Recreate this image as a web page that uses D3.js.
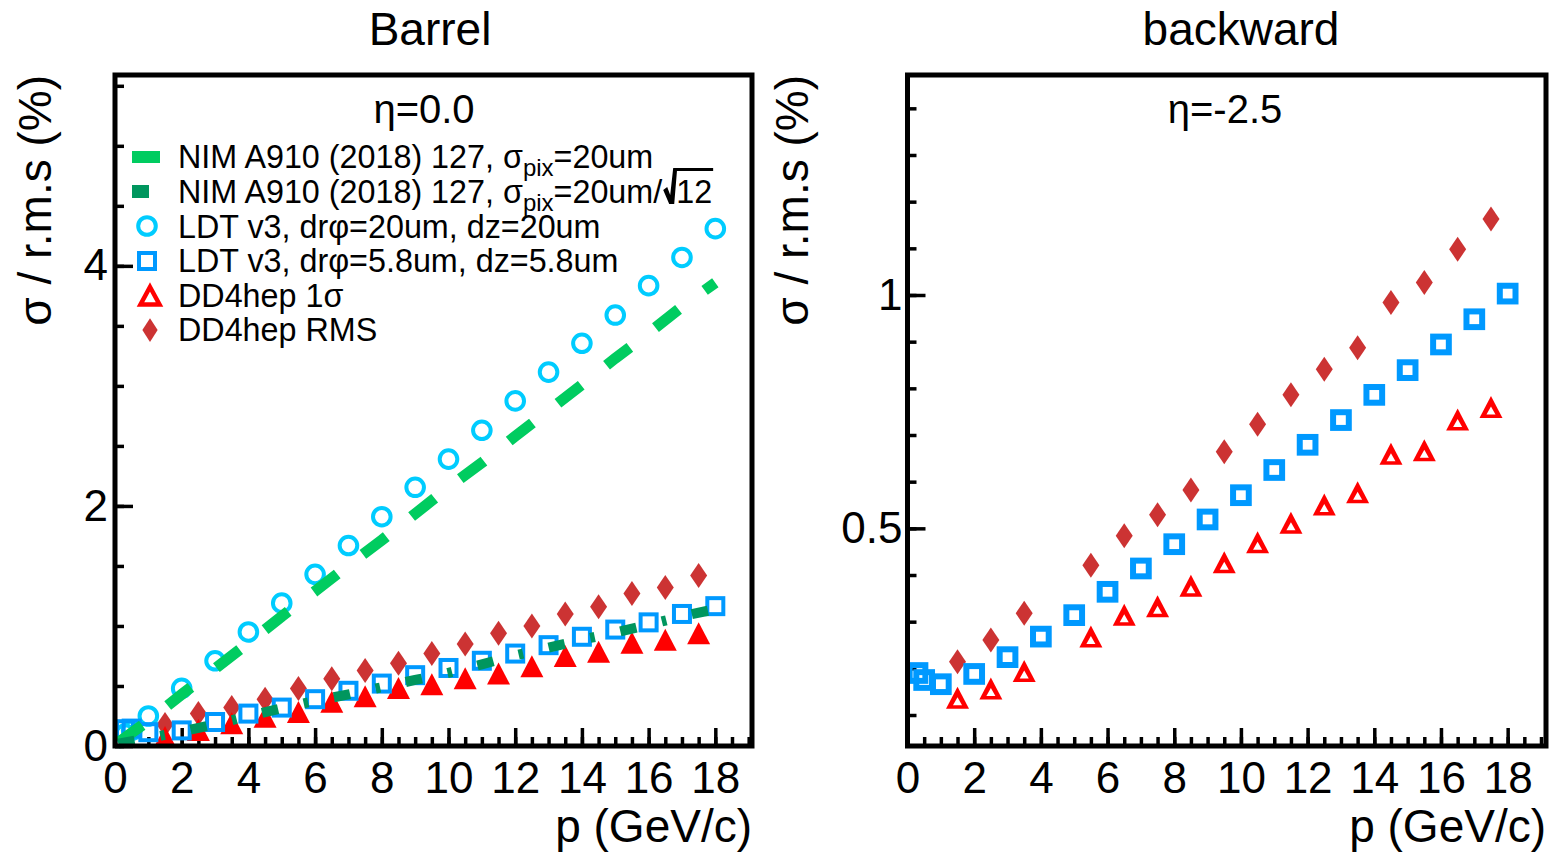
<!DOCTYPE html>
<html><head><meta charset="utf-8">
<script src="https://cdn.jsdelivr.net/npm/d3@7"></script>
<style>
body{margin:0;background:#fff;}
svg{display:block;font-family:"Liberation Sans",Arial,Helvetica,sans-serif;}
</style></head><body>
<svg id="c" width="1549" height="852"></svg>
<script>
// ---------------- data ----------------
const panelTitles = ["Barrel", "backward"];
const etaLabels = ["\u03b7=0.0", "\u03b7=-2.5"];
const legendLabels = [
  "NIM A910 (2018) 127, \u03c3pix=20um",
  "NIM A910 (2018) 127, \u03c3pix=20um/\u221a12",
  "LDT v3, dr\u03c6=20um, dz=20um",
  "LDT v3, dr\u03c6=5.8um, dz=5.8um",
  "DD4hep 1\u03c3",
  "DD4hep RMS"
];
const xTickLabels = [0, 2, 4, 6, 8, 10, 12, 14, 16, 18];
const yTicksBarrel = [0, 2, 4];
const yTicksBackward = [0.5, 1];

// Barrel (eta = 0)
const pLDTbarrel = [0.3, 0.5, 1, 2, 3, 4, 5, 6, 7, 8, 9, 10, 11, 12, 13, 14, 15, 16, 17, 18];
const barrelLDT20 = [0.10, 0.13, 0.25, 0.48, 0.71, 0.95, 1.19, 1.43, 1.67, 1.91, 2.155, 2.39, 2.63, 2.875, 3.115, 3.355, 3.59, 3.835, 4.07, 4.31];
const barrelLDT58 = [0.14, 0.145, 0.115, 0.13, 0.20, 0.27, 0.32, 0.39, 0.46, 0.52, 0.59, 0.65, 0.71, 0.77, 0.84, 0.91, 0.97, 1.03, 1.10, 1.165];
const pDDbarrel = [1.5, 2.5, 3.5, 4.5, 5.5, 6.5, 7.5, 8.5, 9.5, 10.5, 11.5, 12.5, 13.5, 14.5, 15.5, 16.5, 17.5];
const barrelDD1sig = [0.07, 0.13, 0.185, 0.24, 0.28, 0.365, 0.41, 0.48, 0.51, 0.56, 0.60, 0.66, 0.745, 0.78, 0.857, 0.88, 0.935];
const barrelDDrms = [0.18, 0.27, 0.32, 0.39, 0.48, 0.56, 0.63, 0.69, 0.77, 0.85, 0.94, 1.00, 1.10, 1.16, 1.27, 1.32, 1.42];
const pNIM = [0.1, 1, 2, 3, 4, 5, 6, 7, 8, 9, 10, 11, 12, 13, 14, 15, 16, 17, 18];
const nim20 = [0.03, 0.21, 0.43, 0.645, 0.86, 1.08, 1.29, 1.505, 1.715, 1.935, 2.155, 2.36, 2.58, 2.795, 3.01, 3.23, 3.44, 3.66, 3.86];
const nim20s12 = [0.02, 0.065, 0.12, 0.18, 0.25, 0.315, 0.375, 0.43, 0.49, 0.55, 0.61, 0.68, 0.755, 0.82, 0.885, 0.945, 1.01, 1.08, 1.14];

// Backward (eta = -2.5)
const pLDTback = [0.3, 0.5, 1, 2, 3, 4, 5, 6, 7, 8, 9, 10, 11, 12, 13, 14, 15, 16, 17, 18];
const backLDT58 = [0.19, 0.175, 0.166, 0.188, 0.224, 0.268, 0.314, 0.364, 0.414, 0.466, 0.519, 0.571, 0.625, 0.679, 0.732, 0.786, 0.839, 0.894, 0.948, 1.003];
const pDDback = [1.5, 2.5, 3.5, 5.5, 6.5, 7.5, 8.5, 9.5, 10.5, 11.5, 12.5, 13.5, 14.5, 15.5, 16.5, 17.5];
const backDD1sig = [0.136, 0.156, 0.193, 0.267, 0.314, 0.332, 0.376, 0.426, 0.469, 0.511, 0.55, 0.576, 0.659, 0.666, 0.732, 0.759];
const backDDrms = [0.214, 0.261, 0.318, 0.421, 0.484, 0.529, 0.582, 0.664, 0.723, 0.786, 0.841, 0.887, 0.984, 1.027, 1.098, 1.163];

// ---------------- styling ----------------
const COL = {lime:"#00cc60", dgreen:"#00965e", cyan:"#00ccff", blue:"#0099ff", red:"#ff0000", dred:"#cc3333"};

const svg = d3.select("#c");
svg.append("rect").attr("width",1549).attr("height",852).attr("fill","#fff");

const xL = d3.scaleLinear().domain([0,19.1]).range([115,752]);
const yL = d3.scaleLinear().domain([0,5.59]).range([746,75]);
const xR = d3.scaleLinear().domain([0,19.15]).range([907.5,1546]);
const yR = d3.scaleLinear().domain([0.0336,1.4714]).range([746,75]);

const zip = (ps, vs) => ps.map((p,i)=>({p, v: vs[i]}));

function drawAxes(x, y, yMajor, yMinor, yPad) {
  const [x0, x1] = x.range();
  const [yb, yt] = y.range();
  const xMinor = d3.range(0, x.domain()[1], 0.5);
  const g = svg.append("g");
  const bm = g.append("g").attr("transform",`translate(0,${yb})`)
    .call(d3.axisBottom(x).tickValues(xMinor).tickSize(-9).tickFormat(""));
  const bM = g.append("g").attr("transform",`translate(0,${yb})`)
    .call(d3.axisBottom(x).tickValues(xTickLabels).tickSize(-18).tickPadding(16).tickFormat(d3.format("d")));
  const lm = g.append("g").attr("transform",`translate(${x0},0)`)
    .call(d3.axisLeft(y).tickValues(yMinor).tickSize(-9).tickFormat(""));
  const lM = g.append("g").attr("transform",`translate(${x0},0)`)
    .call(d3.axisLeft(y).tickValues(yMajor).tickSize(-18).tickPadding(yPad).tickFormat(d3.format("~g")));
  [bm,bM,lm,lM].forEach(a=>{
    a.select(".domain").remove();
    a.attr("font-family",null).attr("font-size",44);
    a.selectAll("line").attr("stroke","#000").attr("stroke-width",3.5);
    a.selectAll("text").attr("fill","#000");
  });
}

function frame(x, y) {
  const [x0,x1] = x.range(); const [yb,yt] = y.range();
  svg.append("rect").attr("x",x0).attr("y",yt).attr("width",x1-x0).attr("height",yb-yt)
    .attr("fill","none").attr("stroke","#000").attr("stroke-width",5);
}

const triPath = "M0,-11.5L11.5,10.5L-11.5,10.5Z";
const triHole = "M0,-1L4.5,7L-4.5,7Z";
const diaPath = "M0,-12.5L8.5,0L0,12.5L-8.5,0Z";

function diamonds(g, data, x, y) {
  g.selectAll(null).data(data).join("path").attr("d",diaPath)
    .attr("transform",d=>`translate(${x(d.p)},${y(d.v)})`).attr("fill",COL.dred);
}
function trianglesFilled(g, data, x, y) {
  g.selectAll(null).data(data).join("path").attr("d",triPath)
    .attr("transform",d=>`translate(${x(d.p)},${y(d.v)})`).attr("fill",COL.red);
}
function trianglesOpen(g, data, x, y) {
  const s = g.selectAll(null).data(data).join("g")
    .attr("transform",d=>`translate(${x(d.p)},${y(d.v)})`);
  s.append("path").attr("d",triPath).attr("fill",COL.red);
  s.append("path").attr("d",triHole).attr("fill","#fff");
}
function squares(g, data, x, y, side, sw) {
  g.selectAll(null).data(data).join("rect")
    .attr("x",d=>x(d.p)-side/2).attr("y",d=>y(d.v)-side/2)
    .attr("width",side).attr("height",side)
    .attr("fill","none").attr("stroke",COL.blue).attr("stroke-width",sw);
}
function circles(g, data, x, y) {
  g.selectAll(null).data(data).join("circle")
    .attr("cx",d=>x(d.p)).attr("cy",d=>y(d.v)).attr("r",8.8)
    .attr("fill","none").attr("stroke",COL.cyan).attr("stroke-width",4);
}

// ---------------- Barrel panel ----------------
drawAxes(xL, yL, yTicksBarrel, d3.range(0, 5.59, 0.5), 7);
const gL = svg.append("g");
diamonds(gL, zip(pDDbarrel, barrelDDrms), xL, yL);
trianglesFilled(gL, zip(pDDbarrel, barrelDD1sig), xL, yL);
circles(gL, zip(pLDTbarrel, barrelLDT20), xL, yL);
squares(gL, zip(pLDTbarrel, barrelLDT58), xL, yL, 16, 4);
const lineL = d3.line().x(d=>xL(d.p)).y(d=>yL(d.v));
gL.append("path").attr("d", lineL(zip(pNIM, nim20))).attr("fill","none")
  .attr("stroke",COL.lime).attr("stroke-width",11).attr("stroke-dasharray","29.4,32.3");
gL.append("path").attr("d", lineL(zip(pNIM, nim20s12))).attr("fill","none")
  .attr("stroke",COL.dgreen).attr("stroke-width",10).attr("stroke-dasharray","16.5,26.2,4.6,26.2");
frame(xL, yL);

// ---------------- Backward panel ----------------
drawAxes(xR, yR, yTicksBackward, d3.range(0.1, 1.47, 0.1).map(v=>+v.toFixed(2)), 5);
const gR = svg.append("g");
diamonds(gR, zip(pDDback, backDDrms), xR, yR);
trianglesOpen(gR, zip(pDDback, backDD1sig), xR, yR);
squares(gR, zip(pLDTback, backLDT58), xR, yR, 15.7, 6);
frame(xR, yR);

// ---------------- texts ----------------
const T = (x,y,txt,size,anchor) => svg.append("text").attr("x",x).attr("y",y)
  .attr("font-size",size).attr("text-anchor",anchor||"start").attr("fill","#000").text(txt);
T(430, 45, panelTitles[0], 46, "middle");
T(1241, 45, panelTitles[1], 46, "middle");
T(424, 123, etaLabels[0], 40, "middle");
T(1225, 123, etaLabels[1], 40, "middle");
T(752, 842, "p (GeV/c)", 46, "end");
T(1546, 842, "p (GeV/c)", 46, "end");
svg.append("text").attr("transform","translate(51,75) rotate(-90)").attr("text-anchor","end")
  .attr("font-size",46).text("\u03c3 / r.m.s (%)");
svg.append("text").attr("transform","translate(808,75) rotate(-90)").attr("text-anchor","end")
  .attr("font-size",46).text("\u03c3 / r.m.s (%)");

// ---------------- legend ----------------
const lg = svg.append("g");
const rowBase = [168, 203, 237.5, 272, 306.5, 341];
const tx = 178;
const LF = 32.3;
function subText(y, main, sub, tail) {
  const t = lg.append("text").attr("x",tx).attr("y",y).attr("font-size",LF).attr("fill","#000");
  t.append("tspan").text(main);
  t.append("tspan").attr("dy",8).attr("font-size",24).text(sub);
  t.append("tspan").attr("dy",-8).attr("font-size",LF).text(tail);
  return t;
}
subText(rowBase[0], "NIM A910 (2018) 127, \u03c3", "pix", "=20um");
const t2 = subText(rowBase[1], "NIM A910 (2018) 127, \u03c3", "pix", "=20um/");
const w2 = t2.node().getComputedTextLength();
const rx0 = tx + w2 + 1, by = rowBase[1];
lg.append("path").attr("d",
  `M${rx0},${by-13}L${rx0+4},${by-16}L${rx0+7},${by-8}L${rx0+10},${by-35}L${rx0+14},${by-35}L${rx0+11},${by+1}L${rx0+6},${by+1}Z`)
  .attr("fill","#000");
const t12 = lg.append("text").attr("x",rx0+13).attr("y",by).attr("font-size",LF).text("12");
const w12 = t12.node().getComputedTextLength();
lg.append("line").attr("x1",rx0+11).attr("x2",rx0+13+w12+1).attr("y1",by-33.5).attr("y2",by-33.5)
  .attr("stroke","#000").attr("stroke-width",3);
legendLabels.slice(2).forEach((s,i)=>{
  lg.append("text").attr("x",tx).attr("y",rowBase[i+2]).attr("font-size",LF).attr("fill","#000").text(s);
});
lg.append("rect").attr("x",132).attr("y",151).attr("width",28).attr("height",12).attr("fill",COL.lime);
lg.append("rect").attr("x",132).attr("y",185).attr("width",17).attr("height",13).attr("fill",COL.dgreen);
lg.append("circle").attr("cx",147).attr("cy",226).attr("r",8.8).attr("fill","none").attr("stroke",COL.cyan).attr("stroke-width",4);
lg.append("rect").attr("x",139).attr("y",253).attr("width",16).attr("height",16).attr("fill","none").attr("stroke",COL.blue).attr("stroke-width",4);
lg.append("path").attr("d","M0,-9L9.5,8.5L-9.5,8.5Z").attr("transform","translate(150,296)")
  .attr("fill","#fff").attr("stroke",COL.red).attr("stroke-width",4.5);
lg.append("path").attr("d",diaPath).attr("transform","translate(150,330) scale(0.9,0.95)").attr("fill",COL.dred);
</script>
</body></html>
